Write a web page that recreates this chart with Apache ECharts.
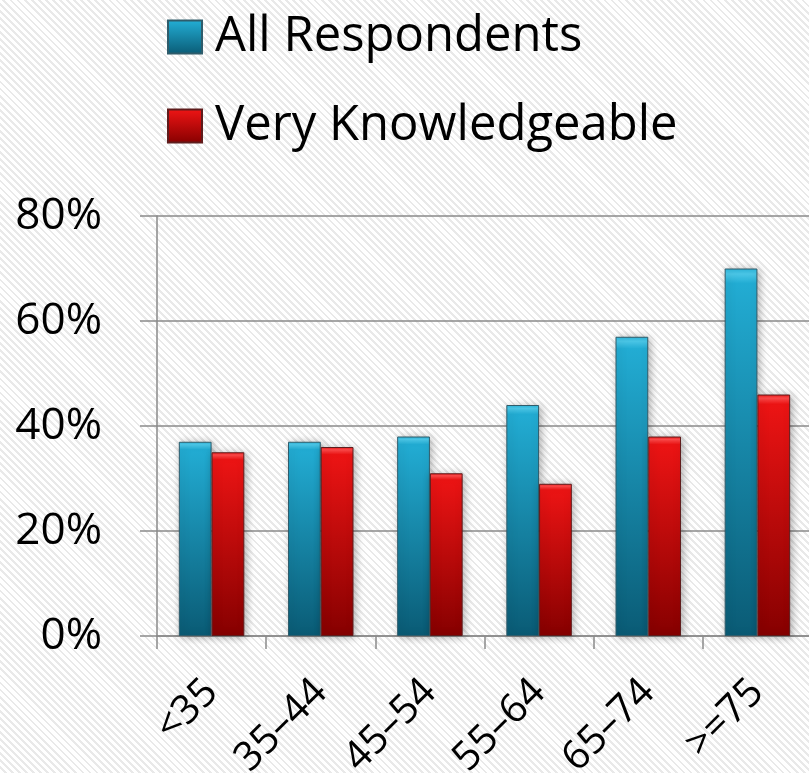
<!DOCTYPE html>
<html>
<head>
<meta charset="utf-8">
<script src="https://cdn.jsdelivr.net/npm/echarts@6/dist/echarts.min.js"></script>
<style>
  html, body { margin: 0; padding: 0; }
  body {
    width: 809px; height: 773px; overflow: hidden;
    background: repeating-linear-gradient(45deg, #ffffff 0px, #ffffff 3px, #e9e9e9 3px, #e9e9e9 5px);
  }
  #chart { width: 809px; height: 773px; }
</style>
</head>
<body>
<div id="chart"></div>
<script>
// Age groups and share of respondents (%) per group
const categories = ['<35', '35–44', '45–54', '55–64', '65–74', '>=75'];
const allRespondents = [37, 37, 38, 44, 57, 70];
const veryKnowledgeable = [35, 36, 31, 29, 38, 46];
const yTicks = { min: 0, max: 80, interval: 20 };

const FONT = '"Open Sans", "DejaVu Sans", sans-serif';

function grad(stops) {
  return new echarts.graphic.LinearGradient(0, 0, 0, 1,
    stops.map(([offset, color]) => ({ offset, color })));
}

const blueFill = grad([[0, '#2bb6dc'], [0.015, '#4cc9ea'], [0.04, '#22acd3'], [1, '#0a5b75']]);
const redFill = grad([[0, '#f01414'], [0.015, '#ff4a4a'], [0.04, '#ec1414'], [1, '#860000']]);

const chart = echarts.init(document.getElementById('chart'), null, { renderer: 'canvas' });

chart.setOption({
  backgroundColor: 'transparent',
  animation: false,
  textStyle: { fontFamily: FONT },
  legend: {
    orient: 'vertical',
    left: 167,
    top: 4,
    padding: 0,
    itemWidth: 34,
    itemHeight: 33,
    itemGap: 23,
    icon: 'rect',
    textStyle: {
      fontFamily: FONT,
      fontSize: 49,
      lineHeight: 48,
      color: '#000',
      padding: [0, 0, 18, 8]
    },
    data: ['All Respondents', 'Very Knowledgeable']
  },
  grid: {
    left: 157,
    top: 216,
    width: 655,
    bottom: 137,
    containLabel: false,
    outerBoundsMode: 'none'
  },
  xAxis: {
    type: 'category',
    data: categories,
    axisLine: { lineStyle: { color: '#8a8a8a', width: 1.5 } },
    axisTick: { show: true, length: 13, lineStyle: { color: '#8a8a8a', width: 1.5 } },
    axisLabel: {
      rotate: 45,
      margin: 50,
      fontSize: 40,
      fontFamily: FONT,
      color: '#000',
      interval: 0
    }
  },
  yAxis: {
    type: 'value',
    min: yTicks.min,
    max: yTicks.max,
    interval: yTicks.interval,
    axisLine: { show: true, lineStyle: { color: '#8a8a8a', width: 1.5 } },
    axisTick: { show: true, length: 17, lineStyle: { color: '#8a8a8a', width: 1.5 } },
    splitLine: { show: true, lineStyle: { color: '#8a8a8a', width: 1.5 } },
    axisLabel: {
      formatter: '{value}%',
      margin: 55,
      fontSize: 44,
      fontFamily: FONT,
      color: '#000'
    }
  },
  series: [
    {
      name: 'All Respondents',
      type: 'bar',
      data: allRespondents,
      barGap: '0%',
      barCategoryGap: '40%',
      itemStyle: {
        color: blueFill,
        borderColor: '#2f5c6b',
        borderWidth: 1,
        shadowBlur: 8,
        shadowColor: 'rgba(0,0,0,0.3)',
        shadowOffsetX: 2,
        shadowOffsetY: 1
      }
    },
    {
      name: 'Very Knowledgeable',
      type: 'bar',
      data: veryKnowledgeable,
      barGap: '0%',
      barCategoryGap: '40%',
      itemStyle: {
        color: redFill,
        borderColor: '#5e1c1c',
        borderWidth: 1,
        shadowBlur: 8,
        shadowColor: 'rgba(0,0,0,0.3)',
        shadowOffsetX: 2,
        shadowOffsetY: 1
      }
    }
  ]
});
</script>
</body>
</html>
